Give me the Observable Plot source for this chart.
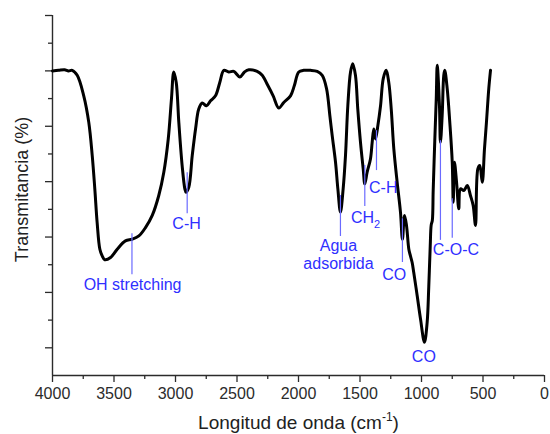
<!DOCTYPE html>
<html>
<head>
<meta charset="utf-8">
<script src="https://cdn.jsdelivr.net/npm/d3@7"></script>
<script src="https://cdn.jsdelivr.net/npm/@observablehq/plot@0.6"></script>
<style>
  html, body { margin: 0; padding: 0; background: #fff; }
</style>
</head>
<body>
<div id="chart"></div>
<script>
// FTIR spectrum: wavenumber (cm-1) and transmittance (%)
const wavenumber = [
  4000, 3951, 3902, 3870, 3840, 3799, 3746, 3705, 3677, 3656, 3637, 3615, 3596, 3575,
  3528, 3474, 3407, 3352, 3298, 3244, 3189, 3136, 3095, 3059, 3033, 3014, 2994, 2973,
  2946, 2924, 2915, 2892, 2864, 2837, 2811, 2783, 2748, 2715, 2675, 2640, 2607, 2567,
  2526, 2477, 2439, 2404, 2336, 2295, 2250, 2206, 2160, 2120, 2065, 2033, 1998, 1957,
  1902, 1848, 1807, 1772, 1745, 1726, 1699, 1680, 1659, 1637, 1618, 1599, 1577, 1559,
  1537, 1518, 1496, 1474, 1461, 1442, 1415, 1401, 1388, 1374, 1355, 1333, 1311, 1287,
  1266, 1246, 1225, 1198, 1171, 1155, 1138, 1122, 1103, 1090, 1076, 1063, 1035, 1008,
  976, 954, 941, 929, 921, 912, 905, 892, 880, 872, 854, 846, 832, 819, 811, 791, 770,
  750, 742, 732, 715, 697, 683, 656, 628, 602, 580, 561, 542, 526, 506, 488, 472, 453, 439
];
const transmittance = [
  50.0, 50.1, 50.2, 50.0, 50.1, 49.2, 45.5, 40.7, 34.7, 28.7, 22.6, 17.8, 16.6, 15.9,
  16.3, 17.8, 19.3, 19.6, 20.2, 21.7, 23.9, 27.5, 31.7, 37.7, 44.9, 49.8, 47.9, 40.7,
  32.9, 28.7, 28.1, 29.0, 34.7, 39.5, 43.1, 44.2, 43.7, 44.6, 45.5, 47.9, 50.1, 49.8,
  49.9, 48.9, 49.8, 50.2, 49.9, 49.2, 47.4, 45.5, 43.3, 44.3, 45.5, 47.4, 49.8, 50.1,
  50.1, 49.9, 49.2, 46.8, 41.9, 38.3, 33.5, 28.7, 24.5, 28.7, 34.7, 43.7, 49.8, 51.3,
  49.2, 43.1, 37.1, 32.3, 29.6, 31.7, 34.1, 37.1, 39.5, 37.7, 40.1, 43.7, 48.6, 50.1,
  47.9, 43.1, 35.9, 29.9, 24.5, 19.6, 23.9, 22.1, 17.8, 16.6, 15.4, 13.6, 9.4, 5.2,
  1.0, 4.6, 11.0, 18.4, 22.2, 23.0, 28.4, 37.4, 45.0, 51.0, 43.7, 37.1, 41.9, 49.2, 50.1, 46.8, 40.7,
  33.5, 26.3, 33.5, 29.9, 25.1, 28.7, 28.4, 29.3, 27.5, 25.7, 22.1, 32.3, 32.9, 29.9, 35.9, 40.7, 46.8, 50.1
];

// Band assignments: marker line (wavenumber, from / to transmittance)
const markerWn     = [3354, 2905, 1659, 1461, 1366, 1155, 846, 750];
const markerTop    = [20.6, 31.6, 27.5, 32.9, 39.2, 23.3, 37.4, 26.9];
const markerBottom = [13.2, 24.2, 20.1, 25.5, 32.0, 15.4, 19.4, 19.8];

// Band labels and where they sit (wavenumber, transmittance at the text top)
const bandNames = ["OH stretching", "C-H", "Agua\nadsorbida", "CH2", "C-H", "CO", "CO", "C-O-C"];
const bandWn    = [3349, 2910, 1675, 1455, 1311, 1221, 981, 720];
const bandT     = [12.7, 23.7, 19.7, 24.8, 30.2, 14.5, -0.2, 19.0];

// Axis ticks
const xTicks = [4000, 3500, 3000, 2500, 2000, 1500, 1000, 500, 0];
const xMinorTicks = [3750, 3250, 2750, 2250, 1750, 1250, 750, 250];
const yTicks = [0, 10, 20, 30, 40, 50, 60];
const yMinorTicks = [5, 15, 25, 35, 45, 55];

const spectrum = wavenumber.map((w, i) => ({wn: w, t: transmittance[i]}));
const markers = markerWn.map((w, i) => ({wn: w, top: markerTop[i], bottom: markerBottom[i]}));
const bands = bandNames.map((name, i) => ({name, wn: bandWn[i], t: bandT[i]}));

const axisColor = "#2b2b2b";
const labelBlue = "#2f2fff";
const markerBlue = "#6a6aff";

const chart = Plot.plot({
  width: 550,
  height: 434,
  marginLeft: 52,
  marginRight: 6,
  marginTop: 15,
  marginBottom: 59,
  style: {
    fontFamily: "'Liberation Sans', Arial, Helvetica, sans-serif",
    fontSize: "16px",
    background: "#fff"
  },
  x: {domain: [4000, 0]},
  y: {domain: [-5, 60]},
  marks: [
    Plot.axisX({ticks: xTicks, tickSize: 7, tickPadding: 5, tickFormat: d => String(d),
      label: null, color: axisColor, fontSize: 16, strokeWidth: 1.3}),
    Plot.axisX({ticks: xMinorTicks, tickSize: 4, tickFormat: () => "",
      label: null, color: axisColor, strokeWidth: 1.3}),
    Plot.axisY({ticks: yTicks, tickSize: 7, tickFormat: () => "",
      label: null, color: axisColor, strokeWidth: 1.3}),
    Plot.axisY({ticks: yMinorTicks, tickSize: 4, tickFormat: () => "",
      label: null, color: axisColor, strokeWidth: 1.3}),
    Plot.ruleY([-5], {stroke: axisColor, strokeWidth: 1.4}),
    Plot.ruleX([4000], {stroke: axisColor, strokeWidth: 1.4}),
    Plot.line(spectrum, {x: "wn", y: "t", stroke: "#000", strokeWidth: 3,
      curve: "catmull-rom", strokeLinejoin: "round", strokeLinecap: "round"}),
    Plot.ruleX(markers, {x: "wn", y1: "top", y2: "bottom", stroke: markerBlue, strokeWidth: 1.2}),
    Plot.text(bands, {x: "wn", y: "t", text: "name", fill: labelBlue, fontSize: 16,
      lineAnchor: "top", lineHeight: 1.12, textAnchor: "middle"}),
    Plot.text(["Longitud de onda (cm-1)"], {frameAnchor: "bottom", lineAnchor: "top",
      textAnchor: "middle", dy: 40, fontSize: 19, fill: "#222"}),
    Plot.text(["Transmitancia (%)"], {frameAnchor: "left", rotate: -90, lineAnchor: "top",
      textAnchor: "middle", dx: -37, dy: -6, fontSize: 18, fill: "#222"})
  ]
});

// Sub- and superscripts in label text
d3.select(chart).selectAll("text").each(function () {
  const s = this.textContent;
  const el = d3.select(this);
  if (s === "CH2") {
    el.text(null);
    el.append("tspan").text("CH");
    el.append("tspan").attr("font-size", 11).attr("dy", 5).text("2");
  } else if (s === "Longitud de onda (cm-1)") {
    el.text(null);
    el.append("tspan").text("Longitud de onda (cm");
    el.append("tspan").attr("font-size", 12).attr("dy", -8).text("-1");
    el.append("tspan").attr("dy", 8).text(")");
  }
});

document.getElementById("chart").appendChild(chart);
</script>
</body>
</html>
